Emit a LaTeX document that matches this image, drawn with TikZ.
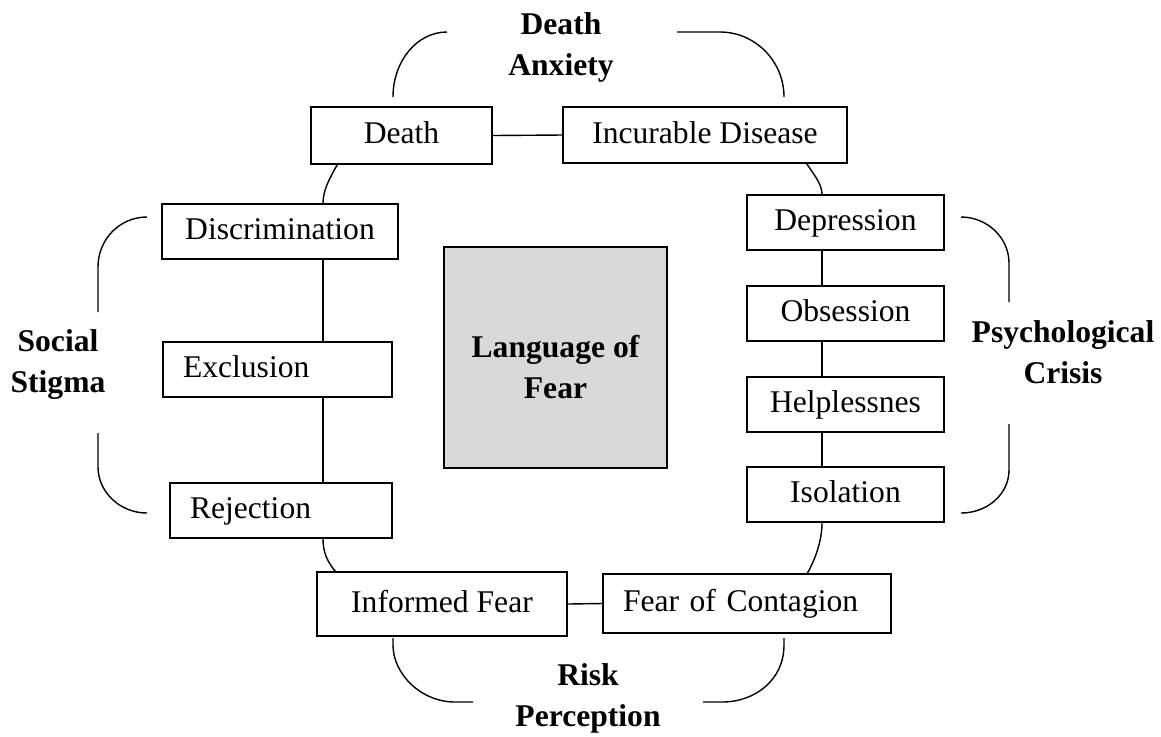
\documentclass[tikz,border=0pt]{standalone}
\usepackage{fontspec}
\setmainfont{Liberation Serif}
\usetikzlibrary{calc}
\definecolor{boxgray}{HTML}{D9D9D9}
\begin{document}
\begin{tikzpicture}[x=0.5pt,y=-0.5pt,line width=0.7pt,
  box/.style={draw,rectangle,inner sep=0pt,text height=0.8em,text depth=0pt,font=\fontsize{15.8}{18}\selectfont},
  lbox/.style={box,align=left,inner xsep=10pt},
  grp/.style={font=\fontsize{15.8}{20.5}\selectfont\bfseries,align=center,inner sep=0pt},
  bracket/.style={draw,line width=0.7pt}]
\useasboundingbox (0,0) rectangle (1161,736);

% boxes
\node[box,minimum width=90.5pt,minimum height=28.5pt] (death) at (401.5,135.5) {Death};
\node[box,minimum width=142pt,minimum height=28pt] (incur) at (705,135) {Incurable Disease};
\node[box,minimum width=118pt,minimum height=27.5pt] (discr) at (280,231.5) {Discrimination};
\node[lbox,minimum width=114.5pt,text width=94.5pt,minimum height=27.5pt] (excl) at (277.5,369.5) {Exclusion};
\node[lbox,minimum width=111pt,text width=91pt,minimum height=27.5pt] (rej) at (281,510.5) {Rejection};
\node[box,minimum width=98.5pt,minimum height=27.5pt] (depr) at (845.5,222.5) {Depression};
\node[box,minimum width=98.5pt,minimum height=27.5pt] (obs) at (845.5,313.5) {Obsession};
\node[box,minimum width=98.5pt,minimum height=27.5pt] (help) at (845.5,404.5) {Helplessnes};
\node[box,minimum width=98.5pt,minimum height=27.5pt] (isol) at (845.5,494.5) {Isolation};
\node[box,minimum width=125pt,minimum height=32pt] (inf) at (442,604) {Informed Fear};
\node[lbox,minimum width=144pt,text width=124pt,minimum height=29.5pt] (cont) at (747,603.5) {Fear of Contagion};
\node[grp,draw,fill=boxgray,minimum width=111.5pt,minimum height=110.5pt] (lang) at (555.5,357.5) {\rule{0pt}{20.3pt}Language of\\Fear};

% group labels
\node[grp] (lDA) at (561,47) {Death\\Anxiety};
\node[grp] (lSS) at (58,364.5) {Social\\Stigma};
\node[grp] (lPC) at (1063,352) {Psychological\\Crisis};
\node[grp] (lRP) at (588,698) {Risk\\Perception};

% straight connectors
\coordinate (lx) at (323,0);
\coordinate (rx) at (822,0);
\draw (death.east) -- (incur.west);
\draw (discr.south -| lx) -- (excl.north -| lx);
\draw (excl.south -| lx) -- (rej.north -| lx);
\draw (depr.south -| rx) -- (obs.north -| rx);
\draw (obs.south -| rx) -- (help.north -| rx);
\draw (help.south -| rx) -- (isol.north -| rx);
\draw (inf.east) -- (cont.west);

% curved connectors
\draw ($(death.south west)+(27,0)$) .. controls +(-8,14) and +(0,-13) .. (discr.north -| lx);
\draw ($(incur.south east)+(-41,0)$) .. controls +(8,12) and +(0,-10) .. (depr.north -| rx);
\draw (rej.south -| lx) .. controls +(0,14) and +(-8,-10) .. ($(inf.north west)+(19,0)$);
\draw (isol.south -| rx) .. controls +(0,18) and +(8,-14) .. ($(cont.north west)+(205,0)$);

% brackets
\path[bracket] (393,97) .. controls (393,61) and (417,32) .. (447,32);
\path[bracket] (677,32) -- (720,32) .. controls (755,32) and (784,61) .. (784,97);
\path[bracket] (147,217) .. controls (120,217) and (98,239) .. (98,267) -- (98,312);
\path[bracket] (98,433) -- (98,467) .. controls (98,492) and (120,513) .. (147,513);
\path[bracket] (961,217) .. controls (987.5,217) and (1009,238) .. (1009,263) -- (1009,302);
\path[bracket] (1009,424) -- (1009,470) .. controls (1009,494) and (987.5,513) .. (961,513);
\path[bracket] (393,638) -- (393,645) .. controls (393,674) and (421,702) .. (455,702) -- (473,702);
\path[bracket] (784,638) -- (784,645) .. controls (784,680) and (755,702) .. (722,702) -- (703,702);
\end{tikzpicture}
\end{document}
